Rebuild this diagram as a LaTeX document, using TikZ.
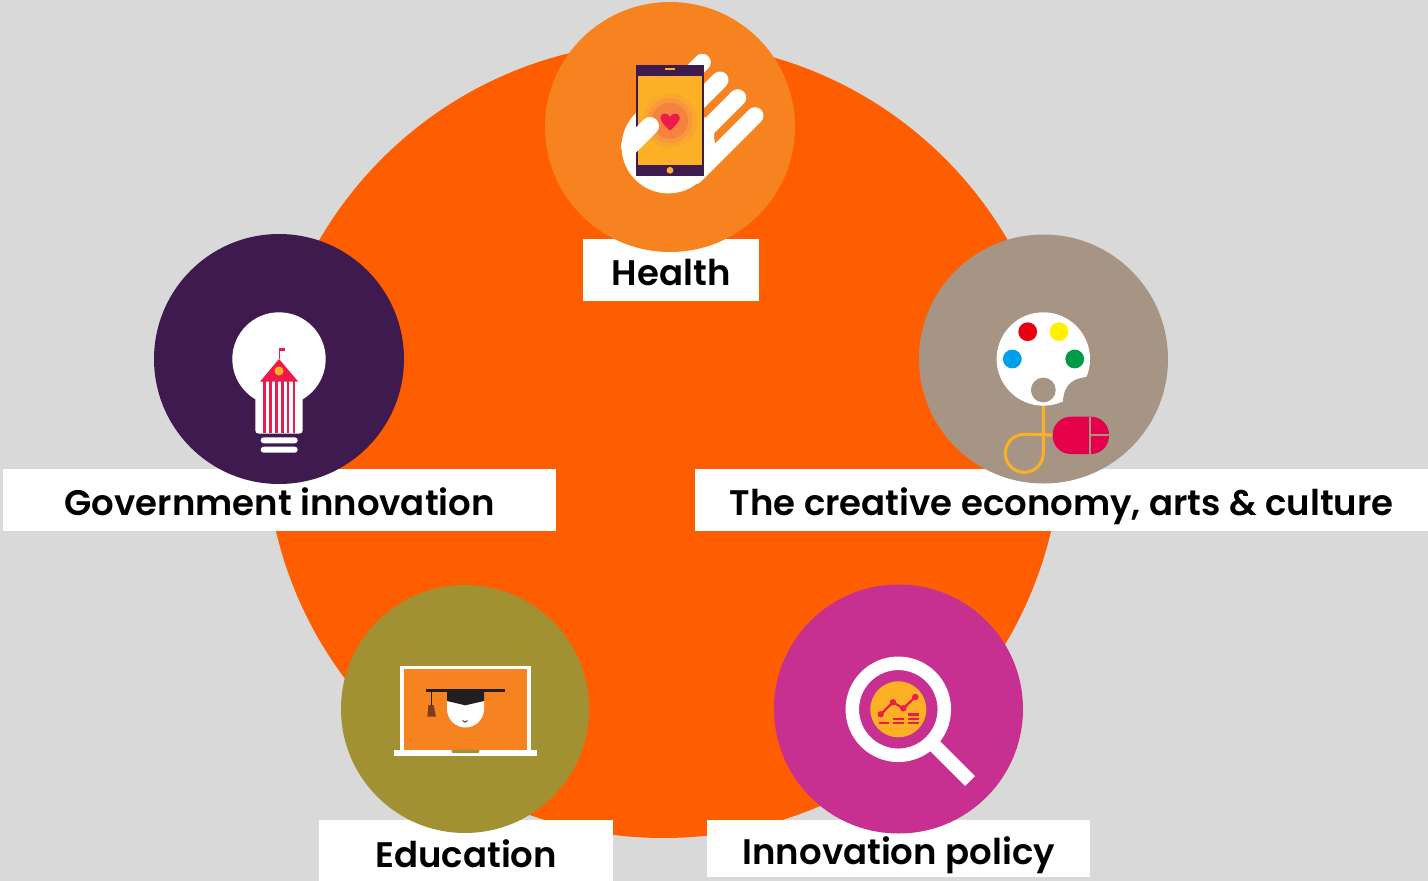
\documentclass[tikz,border=0pt]{standalone}
\usepackage{fontspec}
\setmainfont{Poppins}[BoldFont={Poppins SemiBold}]
\definecolor{bgc}{HTML}{D9D9D9}
\definecolor{mainor}{HTML}{FF5E00}
\definecolor{healthc}{HTML}{F78220}
\definecolor{govc}{HTML}{3F1A4F}
\definecolor{creac}{HTML}{A69584}
\definecolor{educ}{HTML}{A29133}
\definecolor{innoc}{HTML}{C72F91}
\definecolor{yel}{HTML}{FBB025}
\definecolor{redc}{HTML}{ED1B4B}
\definecolor{halo1}{HTML}{F9A72F}
\definecolor{halo2}{HTML}{F8983A}
\definecolor{halo3}{HTML}{F6823F}
\definecolor{dotred}{HTML}{E60012}
\definecolor{dotyel}{HTML}{FFF100}
\definecolor{dotblu}{HTML}{00A0E9}
\definecolor{dotgrn}{HTML}{009944}
\definecolor{mousec}{HTML}{E5004C}
\definecolor{capc}{HTML}{231F20}
\definecolor{tasc}{HTML}{7A3E1D}
\tikzset{
  hub/.style={circle,inner sep=0pt,minimum size=249pt,draw=none},
  lab/.style={rectangle,fill=white,draw=none,inner sep=0pt,anchor=north west,text depth=15pt,font=\fontsize{35.5}{40}\selectfont\bfseries,text=black},
  finger/.style={draw=white,line width=17pt,line cap=round},
  tinybar/.style={fill=redc,draw=none}
}
\begin{document}
\begin{tikzpicture}[x=1pt,y=-1pt]
\useasboundingbox (0,0) rectangle (1428,881);
\fill[bgc] (0,0) rectangle (1428,881);
\node[circle,fill=mainor,inner sep=0pt,minimum size=796pt] (main) at (663.5,440) {};
% labels
\node[lab,minimum width=176pt,text height=46pt,text depth=16pt] (lhealth) at (583,239) {Health};
\node[lab,minimum width=553pt,text height=46pt,text depth=16pt] (lgov) at (3,469) {Government innovation};
\node[lab,minimum width=733pt,text height=46pt,text depth=16pt] (lcrea) at (695,469) {The creative economy, arts \& culture};
\node[lab,minimum width=294pt,text height=47pt,text depth=14pt] (ledu) at (319,820) {Education};
\node[lab,minimum width=383pt,text height=44pt,text depth=13pt] (linno) at (707,820) {Innovation policy};
% circles
\node[hub,fill=healthc,minimum size=250pt] (health) at (670,127) {};
\node[hub,fill=govc,minimum size=250pt] (gov) at (279,359) {};
\node[hub,fill=creac] (crea) at (1043.5,359) {};
\node[hub,fill=educ,minimum size=248pt] (edu) at (465,709) {};
\node[hub,fill=innoc] (inno) at (898.5,709) {};
% --- health icon
\draw[finger] (702.3,62.3) -- (680,84.6);
\draw[finger] (720,80) -- (690,110);
\draw[finger] (737.7,97.7) -- (700,135.4);
\draw[finger] (755,115.7) -- (695,175.7);
\fill[white] (668.3,146.7) circle[radius=46.7];
\fill[white] (714,131) -- (714,140) -- (695,175) -- (660,170) -- (670,100) -- cycle;
\fill[govc] (636,65.3) rectangle (704.3,176);
\fill[yel] (638.3,76) rectangle (701.7,165);
\fill[yel] (665.3,67.7) rectangle (674.7,70.3);
\fill[yel] (670,170.3) circle[radius=3.4];
\fill[halo1] (670,120.7) circle[radius=27];
\fill[halo2] (670,120.7) circle[radius=22.5];
\fill[halo3] (670,120.7) circle[radius=18];
\fill[redc] (670,130.7) .. controls (664,125) and (660.5,121) .. (660.5,118) .. controls (660.5,112.5) and (667.5,112) .. (670,117) .. controls (672.5,112) and (679.8,112.5) .. (679.8,118) .. controls (679.8,121) and (676,125) .. cycle;
\draw[draw=white,line width=18pt,line cap=round] (650,126) -- (630,146);
% --- government icon
\fill[white] (279,359) circle[radius=46.7];
\fill[white,rounded corners=3pt] (255.3,380) rectangle (302.7,433.5);
\fill[white,rounded corners=3pt] (260.7,437.3) rectangle (297.7,443.3);
\fill[white,rounded corners=3pt] (260.7,446.7) rectangle (297.7,452.7);
\foreach \bx in {264.5,270.4,276.3,282.2,288.1,294}
  \fill[redc] (\bx-1.3,381) rectangle (\bx+1.3,433.3);
\fill[redc] (260,381.7) -- (279,359) -- (298.3,381.7) -- cycle;
\fill[yel] (279,371) circle[radius=4.5];
\draw[redc,line width=0.9pt] (279,359) -- (279,348.5);
\fill[redc] (279,348.3) rectangle (284.7,351);
% --- creative icon
\draw[yel,line width=3pt] (1043.3,400) -- (1043.3,453.3) arc[start angle=0,end angle=-270,radius=19,y radius=-19] -- (1054,435);
\fill[white] (1043.3,359) circle[radius=46.7];
\fill[creac] (1087,377) .. controls (1075,378) and (1063.5,383) .. (1063,402) -- (1095,405) -- (1095,377) -- cycle;
\fill[creac] (1043.3,390) circle[radius=12.4];
\fill[dotred] (1027.7,331.7) circle[radius=9.4];
\fill[dotyel] (1059,331.7) circle[radius=9.4];
\fill[dotblu] (1012.3,359) circle[radius=9.4];
\fill[dotgrn] (1074.7,359) circle[radius=9.4];
\fill[mousec,rounded corners=18pt] (1052.7,416.7) rectangle (1109,454);
\draw[creac,line width=1.8pt] (1090,416.7) -- (1090,454);
\draw[creac,line width=1.8pt] (1090,435) -- (1109,435);
% --- education icon
\fill[white] (400.3,666) rectangle (530.7,750.5);
\fill[healthc] (403.7,669) rectangle (527.3,750);
\fill[white] (394,750) rectangle (537,755.7);
\fill[educ,rounded corners=1pt] (451.7,749.5) rectangle (479.3,753);
\fill[white] (447,700) -- (484,700) -- (484,709) arc[start angle=0,end angle=180,radius=18.5] -- cycle;
\draw[capc,line width=0.8pt] (462.5,720.5) .. controls (464,722.8) and (466,722.8) .. (467.5,720.5);
\fill[capc] (426,688.7) rectangle (505,692);
\fill[capc] (447,692) -- (484,692) -- (484,701) -- (465.3,705.3) -- (447,701) -- cycle;
\draw[capc,line width=0.9pt] (431,692) -- (431,705);
\fill[tasc] (428.5,705) -- (433.5,705) -- (436,716.7) -- (427.3,716.7) -- cycle;
% --- innovation icon
\draw[white,line width=13.5pt] (898.3,709.3) circle[radius=46];
\draw[white,line width=14pt] (933,744) -- (970,781);
\fill[yel] (898.3,709.3) circle[radius=28];
\draw[redc,line width=2.2pt] (880.7,714.3) -- (893,702.3) -- (903.3,708.3) -- (915.3,697);
\fill[redc] (880.7,714.3) circle[radius=3.2];
\fill[redc] (893,702.3) circle[radius=3.2];
\fill[redc] (903.3,708.3) circle[radius=3.2];
\fill[redc] (915.3,697) circle[radius=3.2];
\fill[tinybar] (879,721.5) rectangle (889.3,723.9);
\fill[tinybar] (893.3,717.5) rectangle (904.3,719.9);
\fill[tinybar] (893.3,721.5) rectangle (904.3,723.9);
\fill[tinybar] (908.3,713.1) rectangle (919.3,715.5);
\fill[tinybar] (908.3,717.5) rectangle (919.3,719.9);
\fill[tinybar] (908.3,721.5) rectangle (919.3,723.9);
\end{tikzpicture}
\end{document}
